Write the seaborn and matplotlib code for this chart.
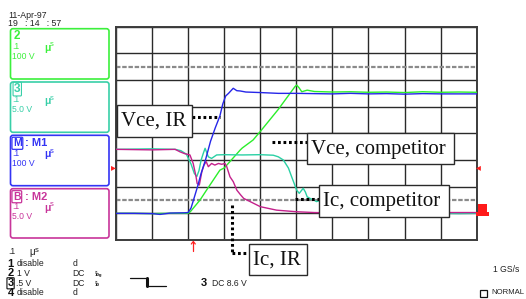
import matplotlib
matplotlib.use("Agg")
import matplotlib.pyplot as plt
from matplotlib.patches import FancyBboxPatch, Rectangle
import seaborn as sns
import pandas as pd

# ---------------- data (x in divisions of 0.1 us, y in divisions) ----------------
vce_ir_x = [0, 0.5, 1.0, 1.22, 1.5, 1.9, 2.0, 2.08, 2.16, 2.26, 2.36, 2.48, 2.62, 2.75, 2.88, 2.96, 3.04,
            3.12, 3.25, 3.35, 3.44, 3.6, 4.0, 4.5, 5.0, 5.5, 6.0, 6.5, 7.0, 7.5, 8.0, 8.5, 9.0, 9.5, 10.0]
vce_ir_y = [1.0, 1.0, 0.99, 0.96, 1.01, 1.02, 1.03, 1.2, 1.55, 2.0, 2.5, 3.0, 3.7, 4.2, 4.65, 5.1, 5.4,
            5.5, 5.69, 5.6, 5.59, 5.55, 5.53, 5.5, 5.5, 5.49, 5.48, 5.5, 5.48, 5.49, 5.47, 5.49, 5.48, 5.48, 5.48]

vce_comp_x = [0, 0.5, 1.0, 1.5, 2.0, 2.06, 2.33, 2.5, 2.88, 3.0, 3.44, 3.5, 3.8, 4.03, 4.5, 4.96, 5.01, 5.08,
              5.15, 5.3, 5.5, 6.0, 6.5, 7.0, 7.5, 8.0, 8.5, 9.0, 9.5, 10.0]
vce_comp_y = [1.0, 1.0, 0.99, 1.0, 1.0, 1.06, 1.5, 1.85, 2.62, 2.7, 3.37, 3.45, 3.75, 4.12, 4.9, 5.75, 5.81, 5.7,
              5.56, 5.62, 5.57, 5.55, 5.56, 5.54, 5.55, 5.53, 5.56, 5.54, 5.55, 5.54]

ic_comp_x = [0, 0.5, 1.0, 1.64, 1.8, 1.95, 2.08, 2.17, 2.24, 2.3, 2.36, 2.42, 2.47, 2.56, 2.65, 2.79, 3.0,
             3.5, 4.0, 4.36, 4.5, 4.64, 4.78, 4.87, 5.01, 5.08, 5.19, 5.25, 5.3, 5.38, 5.48, 5.56, 5.7,
             5.85, 6.0, 6.5, 7.0, 8.0, 9.0, 9.5, 10.0]
ic_comp_y = [3.4, 3.41, 3.42, 3.4, 3.35, 3.22, 2.85, 2.5, 2.38, 2.6, 3.0, 3.25, 3.44, 3.12, 3.06, 3.19, 3.2,
             3.19, 3.2, 3.18, 3.12, 3.0, 2.7, 2.37, 1.87, 1.75, 1.94, 1.8, 1.62, 1.56, 1.5, 1.44, 1.5,
             1.4, 1.3, 1.1, 1.02, 1.0, 1.0, 0.99, 1.0]

ic_ir_x = [0, 0.5, 1.0, 1.64, 1.77, 1.9, 2.05, 2.14, 2.22, 2.25, 2.31, 2.38, 2.44, 2.5, 2.56, 2.65, 2.74,
           2.84, 2.93, 3.02, 3.07, 3.16, 3.25, 3.35, 3.45, 3.54, 3.72, 4.0, 4.45, 5.0, 5.5, 6.0, 7.0,
           8.0, 9.0, 10.0]
ic_ir_y = [3.4, 3.39, 3.38, 3.4, 3.31, 3.24, 3.19, 2.87, 2.37, 2.12, 2.06, 2.56, 2.81, 2.94, 2.75, 2.87, 2.81,
           2.87, 2.84, 2.87, 2.75, 2.37, 2.19, 1.87, 1.7, 1.56, 1.44, 1.25, 1.12, 1.06, 1.03, 1.02, 1.02,
           1.02, 1.03, 1.03]

series_names = ["Vce, IR", "Vce, competitor", "Ic, competitor", "Ic, IR"]
series_colors = ["#2626e8", "#2bee2b", "#2ad0a4", "#c4218c"]
cursor_levels = [1.5, 6.5]

n_xdiv, n_ydiv = 10, 8

# ---------------- figure ----------------
sns.set_style("white")
plt.rcParams["font.family"] = ["Liberation Sans", "DejaVu Sans"]

W, H = 526, 299
fig = plt.figure(figsize=(W / 100, H / 100), dpi=100)
ax = fig.add_axes([116 / W, (H - 240) / H, 360.7 / W, 213.3 / H])

frames = []
for name, xs, ys in [(series_names[0], vce_ir_x, vce_ir_y),
                     (series_names[1], vce_comp_x, vce_comp_y),
                     (series_names[2], ic_comp_x, ic_comp_y),
                     (series_names[3], ic_ir_x, ic_ir_y)]:
    frames.append(pd.DataFrame({"t": xs, "v": ys, "trace": name}))
df = pd.concat(frames, ignore_index=True)

palette = dict(zip(series_names, series_colors))
draw_order = [series_names[1], series_names[2], series_names[3], series_names[0]]
for name in draw_order:
    sns.lineplot(data=df[df.trace == name], x="t", y="v", color=palette[name],
                 lw=1.0, sort=False, estimator=None, ax=ax, legend=False, zorder=3)

ax.set_xlim(0, n_xdiv)
ax.set_ylim(0, n_ydiv)
ax.set_xticks(range(n_xdiv + 1))
ax.set_yticks(range(n_ydiv + 1))
ax.grid(True, color="#2a2a2a", lw=1.0, zorder=1)
ax.tick_params(length=0, labelbottom=False, labelleft=False)
ax.set_xlabel("")
ax.set_ylabel("")
for lvl in cursor_levels:
    ax.axhline(lvl, color="#8a8a8a", lw=1.6, ls=(0, (2.0, 0.8)), zorder=2)
for sp in ax.spines.values():
    sp.set_color("#3c3c3c")
    sp.set_linewidth(1.4)

# ---------------- overlay in pixel coordinates ----------------
ov = fig.add_axes([0, 0, 1, 1], zorder=5)
ov.set_xlim(0, W)
ov.set_ylim(H, 0)
ov.axis("off")

SANS = ["Liberation Sans", "DejaVu Sans"]
SERIF = ["Liberation Serif", "DejaVu Serif"]

def t(x, y, s, size=6.2, color="#222222", weight="normal", ha="left", family=SANS, **kw):
    ov.text(x, y, s, fontsize=size, color=color, weight=weight, ha=ha, va="center",
            family=family, **kw)

# date/time
t(8, 15, "11-Apr-97", 6.3)
t(8, 24, "19   : 14   : 57", 6.3)

# channel panels
panels = [
    (27.7, 80.0, "#3cf03c", "2", "100 V"),
    (81.0, 133.3, "#38cfa8", "3", "5.0 V"),
    (134.3, 186.7, "#3434f4", "M1", "100 V"),
    (187.7, 239.0, "#c8359a", "M2", "5.0 V"),
]
for top, bot, col, label, volts in panels:
    ov.add_patch(FancyBboxPatch((10.5, top + 1), 98.5, bot - top - 2,
                                boxstyle="round,pad=0,rounding_size=2.5",
                                fc="none", ec=col, lw=1.2))
    if label in ("2", "3"):
        t(14, top + 8, label, 8.5, col, "bold",
          bbox=dict(boxstyle="round,pad=0.08", fc="none", ec=col, lw=0.8) if label == "3" else None)
    else:
        icon = "M" if label == "M1" else "B"
        t(13, top + 9, icon, 7.5, col, "bold",
          bbox=dict(boxstyle="round,pad=0.1", fc="none", ec=col, lw=0.9))
        t(25, top + 9, ": " + label, 8, col, "bold")
    t(12, top + 19, ".1", 6.2, col)
    t(44, top + 20, "\u03bc", 7.5, col, "bold")
    t(50, top + 17, "s", 5.5, col)
    t(12, top + 29, volts, 6.2, col)

# bottom status text
t(8, 251, ".1", 6.2)
t(29, 252, "\u03bc", 7.0)
t(35, 250, "s", 5.5)
rows = [(264, "1", "disable", "d"), (273.3, "2", "1 V", "DC"),
        (283.3, "3", ".5 V", "DC"), (292.7, "4", "disable", "d")]
for y, ch, txt, cpl in rows:
    if ch == "3":
        t(7.5, y, ch, 8, "#111111", "bold",
          bbox=dict(boxstyle="round,pad=0.05", fc="none", ec="#111111", lw=0.8))
    else:
        t(7.5, y, ch, 8, "#111111", "bold")
    t(17 if ch != "3" else 16, y, txt, 6.2)
    t(72.5, y, cpl, 6.2)
    if ch in ("2", "3"):
        t(95, y, "\u00d7\n10" + ("g" if ch == "2" else ""), 3.2, "#111111", "bold",
          linespacing=0.9)

# trigger symbol
ov.plot([130, 146.7], [277.7, 277.7], color="#111111", lw=0.9)
ov.plot([146.7, 146.7], [277.7, 286], color="#111111", lw=2.2)
ov.plot([146.7, 165.7], [286, 286], color="#111111", lw=0.9)
t(201, 283.3, "3", 8, "#111111", "bold")
t(212, 283.3, "DC 8.6 V", 6.2)

t(493, 270, "1 GS/s", 6.2)
ov.add_patch(Rectangle((480, 289.5), 7, 7, fc="none", ec="#111111", lw=0.9))
t(491, 293, "NORMAL", 5.6)

# red markers
t(110.5, 167.3, "\u25b8", 7, "#ff2020")
t(476, 167.3, "\u25c2", 7, "#ff2020")
ov.add_patch(Rectangle((478, 204), 8.5, 11, fc="#ff1a1a", ec="none"))
ov.add_patch(Rectangle((476, 212), 12.5, 3.5, fc="#ff1a1a", ec="none"))
ov.plot([193.3, 193.3], [241.5, 251], color="#ff2020", lw=0.9)
ov.plot([191.3, 193.3, 195.3], [244, 241.5, 244], color="#ff2020", lw=0.9)

# label boxes with leader lines
dots = dict(color="#000000", lw=2.2, ls=(0, (0.9, 0.9)), solid_capstyle="butt")
ov.plot([192, 220], [117, 117], **dots)
ov.plot([272, 307], [142, 142], **dots)
ov.plot([295, 319], [198.5, 198.5], **dots)
ov.plot([232, 232], [205, 253], **dots)
ov.plot([232, 249], [253, 253], **dots)

boxes = [
    (116.7, 105.0, 192.3, 136.7, series_names[0]),
    (307.3, 133.3, 454.3, 164.3, series_names[1]),
    (319.3, 185.0, 449.3, 217.3, series_names[2]),
    (249.3, 244.0, 306.7, 275.0, series_names[3]),
]
for x0, y0, x1, y1, s in boxes:
    ov.add_patch(Rectangle((x0, y0), x1 - x0, y1 - y0, fc="white", ec="#2a2a2a", lw=1.0, zorder=6))
    ov.text(x0 + 4, (y0 + y1) / 2 + 0.5, s, fontsize=15, family=SERIF, color="#111111",
            ha="left", va="center", zorder=7)

fig.savefig("out.png", dpi=100)
